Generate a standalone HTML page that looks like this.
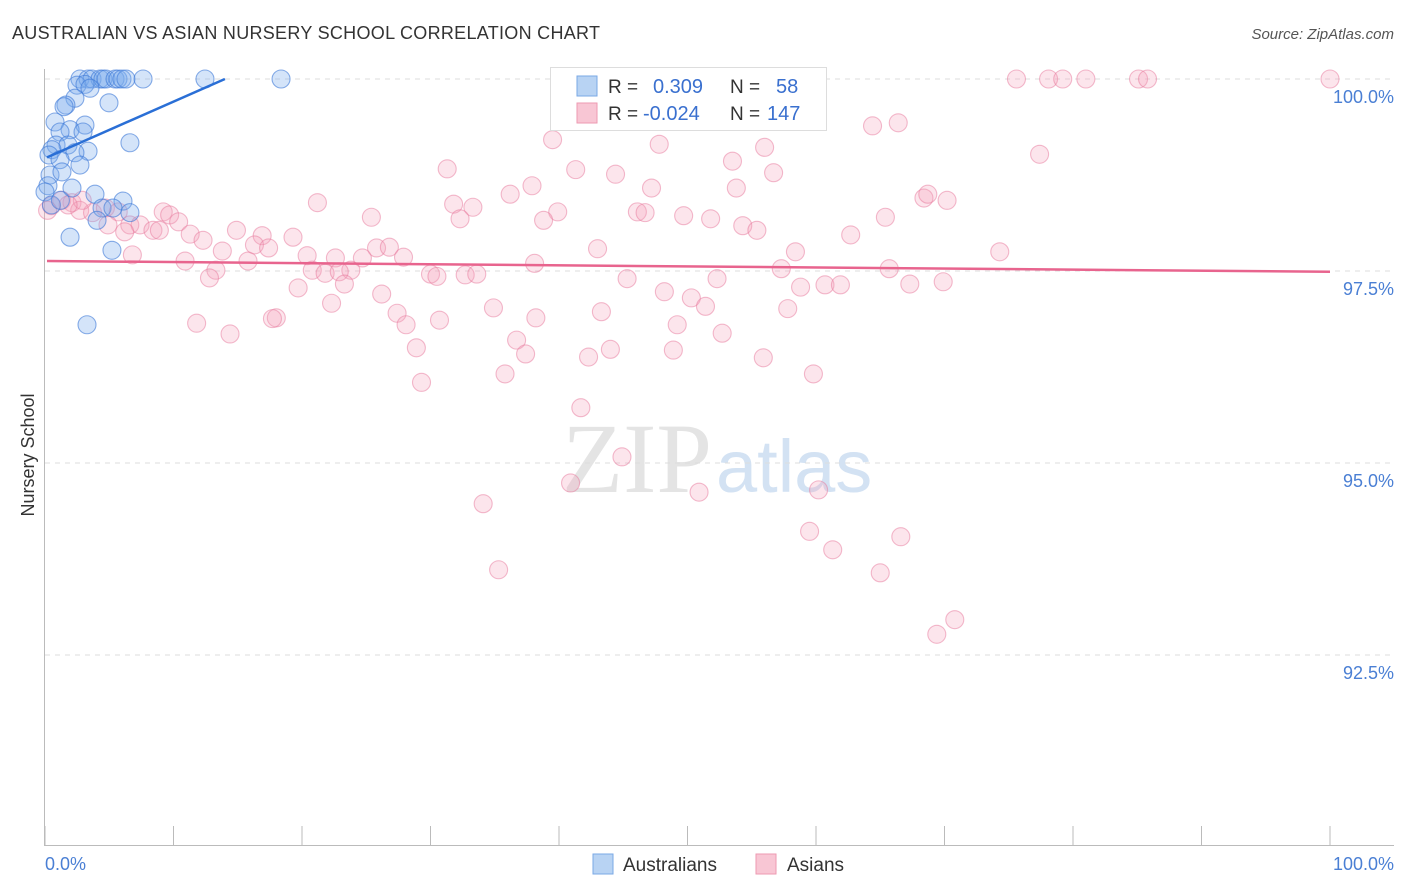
<!DOCTYPE html>
<html><head><meta charset="utf-8"><style>
body{margin:0;background:#fff;font-family:"Liberation Sans",sans-serif}
svg{display:block}
</style></head><body>
<svg id="c" width="1406" height="892">
<text x="12" y="39" font-size="18" fill="#333" textLength="588">AUSTRALIAN VS ASIAN NURSERY SCHOOL CORRELATION CHART</text>
<text x="1394" y="39" font-size="15" fill="#555" font-style="italic" text-anchor="end">Source: ZipAtlas.com</text>
<text x="712" y="492" font-size="100" fill="#e4e4e4" font-family="Liberation Serif,serif" text-anchor="end">ZIP</text>
<text x="716" y="492" font-size="74" fill="#d3e2f3">atlas</text>
<g id="grid"></g>
<g id="pts"></g>
<g id="lines"></g>
<text x="34" y="455" font-size="18" fill="#333" transform="rotate(-90 34 455)" text-anchor="middle">Nursery School</text>
<text x="45" y="870" font-size="18" fill="#4a7fd4">0.0%</text>
<text x="1394" y="870" font-size="18" fill="#4a7fd4" text-anchor="end">100.0%</text>
<g>
<rect x="550.5" y="67.5" width="276" height="63" fill="#fff" stroke="#ddd"/>
<rect x="577" y="76" width="20" height="20" fill="#b8d3f3" stroke="#7aa8e6"/>
<rect x="577" y="103" width="20" height="20" fill="#f8c6d4" stroke="#ee9ab2"/>
<text x="608" y="93" font-size="19" fill="#333">R =</text><text x="653" y="93" font-size="20" fill="#3a70cf">0.309</text>
<text x="730" y="93" font-size="19" fill="#333">N =</text><text x="776" y="93" font-size="20" fill="#3a70cf">58</text>
<text x="608" y="120" font-size="19" fill="#333">R =</text><text x="643" y="120" font-size="20" fill="#3a70cf">-0.024</text>
<text x="730" y="120" font-size="19" fill="#333">N =</text><text x="767" y="120" font-size="20" fill="#3a70cf">147</text>
</g>
<rect x="593" y="854" width="20" height="20" fill="#b8d3f3" stroke="#7aa8e6"/>
<text x="623" y="871" font-size="19" fill="#333">Australians</text>
<rect x="756" y="854" width="20" height="20" fill="#f8c6d4" stroke="#ee9ab2"/>
<text x="787" y="871" font-size="19" fill="#333">Asians</text>
</svg>
<script>
const yTicks=[100,97.5,95,92.5];
const yTickLabels=["100.0%","97.5%","95.0%","92.5%"];
const blueX=[2.72,3.35,3.66,4.28,4.51,4.75,5.45,5.68,5.99,6.30,7.63,12.45,18.37,2.49,3.11,3.50,2.33,1.63,1.48,4.98,0.78,3.11,1.95,1.17,2.96,6.61,0.86,1.79,0.54,3.35,2.33,0.31,1.17,2.72,0.39,1.32,0.23,2.10,3.89,0,6.07,4.44,5.29,6.61,4.05,1.95,5.21,3.27,0.5,1.2];
const blueY=[100,100,100,100,100,100,100,100,100,100,100,100,100,99.92,99.93,99.88,99.75,99.66,99.64,99.69,99.44,99.40,99.34,99.31,99.31,99.17,99.14,99.14,99.08,99.06,99.04,99.01,98.95,98.88,98.75,98.79,98.61,98.58,98.50,98.53,98.41,98.32,98.32,98.26,98.16,97.94,97.77,96.80,98.36,98.42];
const pinkX=[75.6,78.1,79.2,81.0,85.1,85.8,100,45.8,64.4,66.4,39.5,47.8,56.0,77.4,53.5,31.3,41.3,44.4,56.7,37.9,47.2,53.8,36.2,68.4,68.7,70.2,21.2,31.8,33.3,39.9,46.1,46.7,25.4,32.3,38.8,49.7,51.8,65.4,54.3,55.4,62.7,14.9,16.9,19.3,43.0,25.8,26.8,27.9,58.4,74.3,16.3,17.4,13.8,15.8,10.9,20.4,22.6,24.7,38.1,13.3,23.8,20.8,21.8,22.9,30.0,30.5,32.7,33.6,57.3,65.7,12.8,45.3,52.3,23.3,19.7,58.8,60.7,61.9,67.3,69.9,26.2,48.2,50.3,51.4,22.3,34.9,43.3,57.8,27.4,30.7,38.2,11.8,18.0,17.7,28.1,49.2,52.7,14.4,36.7,28.9,37.4,42.3,44.0,48.9,55.9,35.8,59.8,29.3,41.7,44.9,40.9,50.9,60.2,34.1,59.5,66.6,61.3,35.3,65.0,70.8,69.4,0.5,1.3,2.1,2.7,3.7,4.7,5.7,6.6,4.9,7.4,8.4,8.9,9.2,9.7,10.4,11.3,12.3,6.2,6.8,2.9,1.8,0.2];
const pinkY=[100,100,100,100,100,100,100,99.49,99.39,99.43,99.21,99.15,99.11,99.02,98.93,98.83,98.82,98.76,98.78,98.61,98.58,98.58,98.50,98.45,98.50,98.42,98.39,98.37,98.33,98.27,98.27,98.26,98.20,98.18,98.16,98.22,98.18,98.20,98.09,98.03,97.97,98.03,97.96,97.94,97.79,97.80,97.81,97.68,97.75,97.75,97.84,97.80,97.76,97.63,97.63,97.70,97.67,97.67,97.60,97.51,97.51,97.51,97.47,97.49,97.46,97.43,97.45,97.46,97.53,97.53,97.41,97.40,97.40,97.33,97.28,97.29,97.32,97.32,97.33,97.36,97.20,97.23,97.15,97.04,97.08,97.02,96.97,97.01,96.95,96.86,96.89,96.82,96.89,96.88,96.80,96.80,96.69,96.68,96.60,96.50,96.42,96.38,96.48,96.47,96.37,96.16,96.16,96.05,95.72,95.08,94.74,94.62,94.65,94.47,94.11,94.04,93.87,93.61,93.57,92.96,92.77,98.35,98.42,98.39,98.29,98.26,98.32,98.27,98.10,98.10,98.10,98.03,98.03,98.27,98.23,98.14,97.98,97.90,98.01,97.71,98.42,98.36,98.29];
const blueTrend=[[0,98.98],[14,100]];
const pinkTrend=[[0,97.63],[100,97.49]];
const NS="http://www.w3.org/2000/svg";
const X=v=>45+v*12.85, Y=v=>79+(100-v)*76.8;
function mk(t,a,p){const e=document.createElementNS(NS,t);for(const k in a)e.setAttribute(k,a[k]);p.appendChild(e);return e;}
const grid=document.getElementById('grid');
yTicks.forEach((t,i)=>{
 const l=mk('line',{x1:45,x2:1394,y1:Y(t),y2:Y(t),stroke:'#ddd','stroke-dasharray':'5,5'},grid);
 
 
 const tx=mk('text',{x:1394,y:Y(t)+24,'font-size':18,fill:'#4a7fd4','text-anchor':'end'},grid);
 tx.textContent=yTickLabels[i];
 
 
});
const ax=mk('line',{x1:44.5,x2:44.5,y1:69,y2:846,stroke:'#bbb'},grid);


const bx=mk('line',{x1:44,x2:1394,y1:845.5,y2:845.5,stroke:'#bbb'},grid);


for(let i=0;i<=10;i++){const t=mk('line',{x1:X(i*10),x2:X(i*10),y1:826,y2:846,stroke:'#bbb'},grid);
 
 }
const pts=document.getElementById('pts');
pinkX.forEach((v,i)=>{const c=mk('circle',{cx:X(v),cy:Y(pinkY[i]),r:9,fill:'rgba(244,160,186,0.28)',stroke:'rgba(232,120,155,0.5)','stroke-width':1.1},pts);
 
 });
blueX.forEach((v,i)=>{const c=mk('circle',{cx:X(v),cy:Y(blueY[i]),r:(v===0&&blueY[i]<98)?17:9,fill:'rgba(120,170,235,0.32)',stroke:'rgba(60,120,215,0.6)','stroke-width':1.1},pts);
 
 });
const lines=document.getElementById('lines');
const b=mk('line',{x1:X(blueTrend[0][0])+2,y1:Y(blueTrend[0][1]),x2:X(blueTrend[1][0]),y2:Y(blueTrend[1][1]),stroke:'#2a6fd6','stroke-width':2.5},lines);


const p=mk('line',{x1:X(pinkTrend[0][0])+2,y1:Y(pinkTrend[0][1]),x2:X(pinkTrend[1][0]),y2:Y(pinkTrend[1][1]),stroke:'#e8648e','stroke-width':2.5},lines);


</script>
</body></html>
